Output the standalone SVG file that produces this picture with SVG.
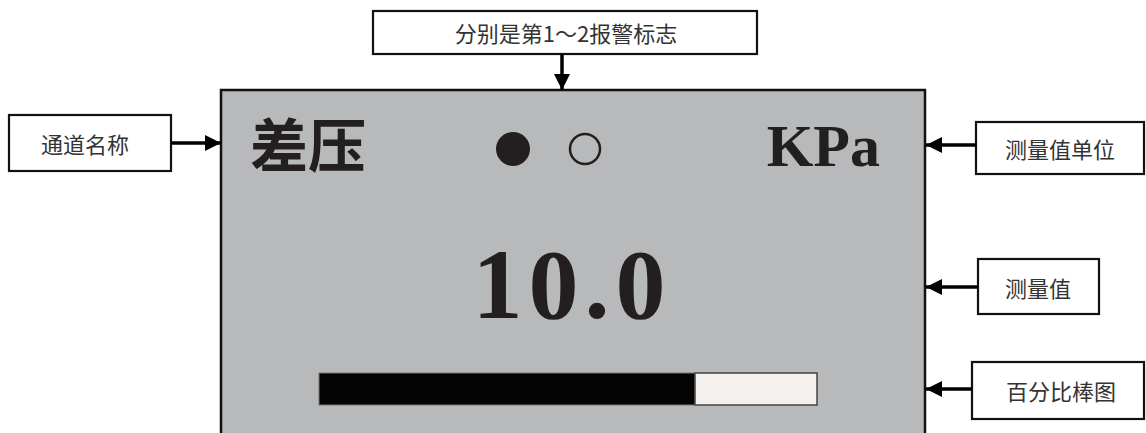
<svg xmlns="http://www.w3.org/2000/svg" width="1146" height="433" viewBox="0 0 1146 433">
<style>
.lbl{fill:#fff;stroke:#111;stroke-width:2.2}
.lt{font-family:"Noto Sans CJK SC","Noto Sans",sans-serif;font-size:22px;fill:#333;text-anchor:middle;dominant-baseline:central}
.con{stroke:#000;stroke-width:3.5;fill:none}
</style>
<defs>
<marker id="ah" viewBox="0 0 10 10" refX="10" refY="5" markerWidth="4.6" markerHeight="4.6" orient="auto" markerUnits="strokeWidth">
<path d="M0,0 L10,5 L0,10 Z" fill="#000"/>
</marker>
</defs>
<rect width="1146" height="433" fill="#fff"/>
<g id="display">
<rect x="221" y="90" width="704" height="350" fill="#b8b9bb" stroke="#111" stroke-width="2.5"/>
<text x="250" y="167" font-family="Noto Sans CJK SC,sans-serif" font-weight="700" font-size="58" fill="#231f20">差压</text>
<circle cx="513" cy="149" r="17" fill="#231f20"/>
<circle cx="585" cy="149" r="15" fill="none" stroke="#231f20" stroke-width="2.5"/>
<text x="880" y="166" font-family="Liberation Serif,serif" font-weight="bold" font-size="60" fill="#231f20" text-anchor="end">KPa</text>
<text x="572" y="318" font-family="Liberation Serif,serif" font-weight="bold" font-size="100" fill="#231f20" text-anchor="middle" letter-spacing="6">10.0</text>
<rect x="319" y="373" width="376" height="32" fill="#050405" stroke="#777" stroke-width="1"/>
<rect x="695" y="373" width="122" height="32" fill="#f3f0ee" stroke="#444" stroke-width="1.5"/>
</g>
<g id="n-alarm"><rect class="lbl" x="373" y="11" width="384" height="43"/><text class="lt" x="566" y="32">分别是第1～2报警标志</text></g>
<g id="n-name"><rect class="lbl" x="9" y="115" width="162" height="56"/><text class="lt" x="85" y="143">通道名称</text></g>
<g id="n-unit"><rect class="lbl" x="976" y="122" width="168" height="52"/><text class="lt" x="1060" y="148">测量值单位</text></g>
<g id="n-value"><rect class="lbl" x="978" y="259" width="121" height="55"/><text class="lt" x="1038" y="287">测量值</text></g>
<g id="n-bar"><rect class="lbl" x="972" y="362" width="172" height="57"/><text class="lt" x="1061" y="390">百分比棒图</text></g>
<g id="connectors">
<line class="con" x1="562" y1="54" x2="562" y2="90" marker-end="url(#ah)"/>
<line class="con" x1="171" y1="143" x2="221" y2="143" marker-end="url(#ah)"/>
<line class="con" x1="976" y1="145" x2="926" y2="145" marker-end="url(#ah)"/>
<line class="con" x1="978" y1="287" x2="926" y2="287" marker-end="url(#ah)"/>
<line class="con" x1="972" y1="389" x2="926" y2="389" marker-end="url(#ah)"/>
</g>
</svg>
